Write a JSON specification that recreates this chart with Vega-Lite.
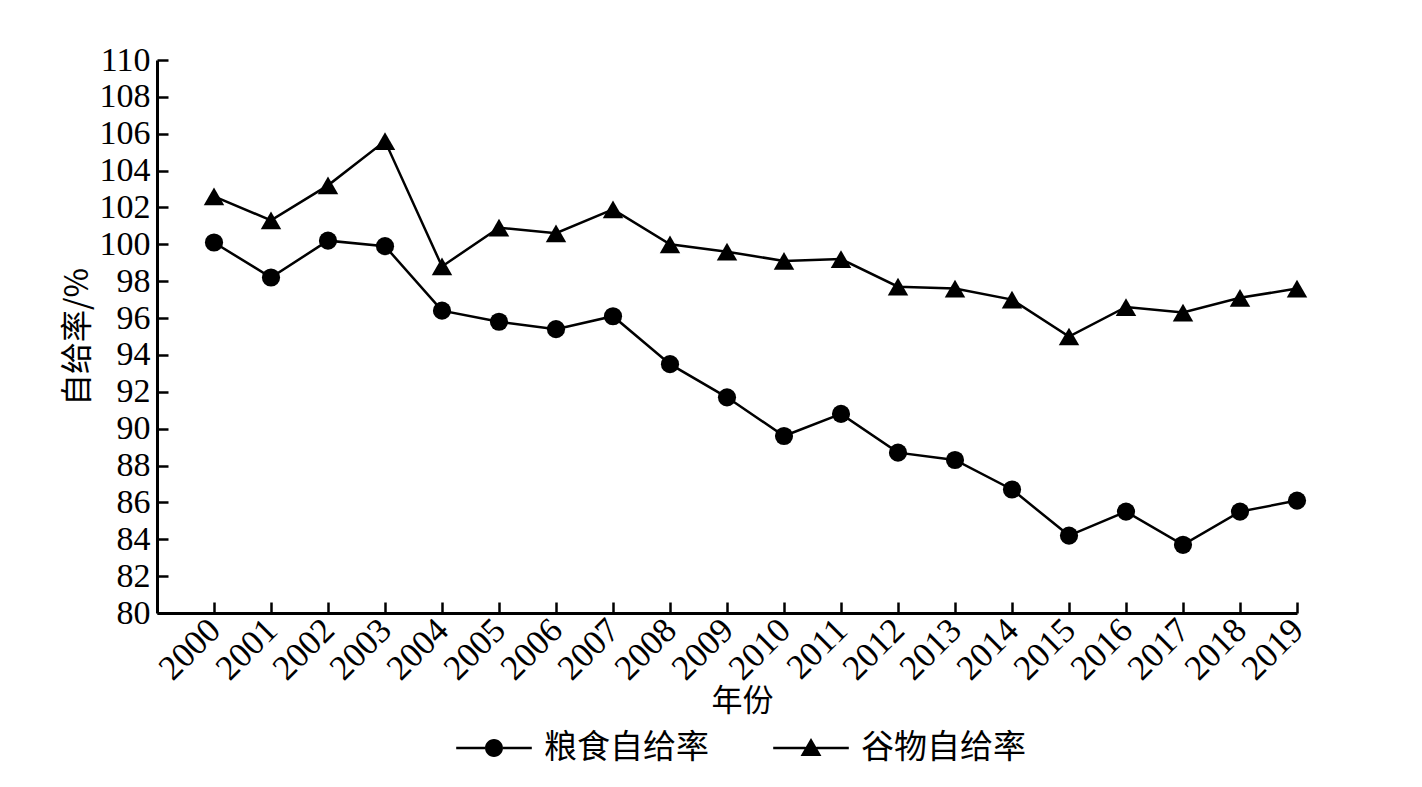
{
  "$schema": "https://vega.github.io/schema/vega-lite/v6.json",
  "width": 1140,
  "height": 553,
  "autosize": {"type": "none"},
  "padding": {"left": 157, "top": 60, "right": 125, "bottom": 174},
  "background": "white",
  "data": {"values": [
    {"year": 2000, "series": "粮食自给率", "value": 100.1},
    {"year": 2001, "series": "粮食自给率", "value": 98.2},
    {"year": 2002, "series": "粮食自给率", "value": 100.2},
    {"year": 2003, "series": "粮食自给率", "value": 99.9},
    {"year": 2004, "series": "粮食自给率", "value": 96.4},
    {"year": 2005, "series": "粮食自给率", "value": 95.8},
    {"year": 2006, "series": "粮食自给率", "value": 95.4},
    {"year": 2007, "series": "粮食自给率", "value": 96.1},
    {"year": 2008, "series": "粮食自给率", "value": 93.5},
    {"year": 2009, "series": "粮食自给率", "value": 91.7},
    {"year": 2010, "series": "粮食自给率", "value": 89.6},
    {"year": 2011, "series": "粮食自给率", "value": 90.8},
    {"year": 2012, "series": "粮食自给率", "value": 88.7},
    {"year": 2013, "series": "粮食自给率", "value": 88.3},
    {"year": 2014, "series": "粮食自给率", "value": 86.7},
    {"year": 2015, "series": "粮食自给率", "value": 84.2},
    {"year": 2016, "series": "粮食自给率", "value": 85.5},
    {"year": 2017, "series": "粮食自给率", "value": 83.7},
    {"year": 2018, "series": "粮食自给率", "value": 85.5},
    {"year": 2019, "series": "粮食自给率", "value": 86.1},
    {"year": 2000, "series": "谷物自给率", "value": 102.6},
    {"year": 2001, "series": "谷物自给率", "value": 101.3},
    {"year": 2002, "series": "谷物自给率", "value": 103.2},
    {"year": 2003, "series": "谷物自给率", "value": 105.6},
    {"year": 2004, "series": "谷物自给率", "value": 98.8},
    {"year": 2005, "series": "谷物自给率", "value": 100.9},
    {"year": 2006, "series": "谷物自给率", "value": 100.6},
    {"year": 2007, "series": "谷物自给率", "value": 101.9},
    {"year": 2008, "series": "谷物自给率", "value": 100.0},
    {"year": 2009, "series": "谷物自给率", "value": 99.6},
    {"year": 2010, "series": "谷物自给率", "value": 99.1},
    {"year": 2011, "series": "谷物自给率", "value": 99.2},
    {"year": 2012, "series": "谷物自给率", "value": 97.7},
    {"year": 2013, "series": "谷物自给率", "value": 97.6},
    {"year": 2014, "series": "谷物自给率", "value": 97.0},
    {"year": 2015, "series": "谷物自给率", "value": 95.0},
    {"year": 2016, "series": "谷物自给率", "value": 96.6},
    {"year": 2017, "series": "谷物自给率", "value": 96.3},
    {"year": 2018, "series": "谷物自给率", "value": 97.1},
    {"year": 2019, "series": "谷物自给率", "value": 97.6}
  ]},
  "encoding": {
    "x": {
      "field": "year", "type": "quantitative",
      "scale": {"domain": [1999, 2019], "nice": false, "zero": false},
      "axis": {
        "values": [2000,2001,2002,2003,2004,2005,2006,2007,2008,2009,2010,2011,2012,2013,2014,2015,2016,2017,2018,2019],
        "format": "d", "labelAngle": -45, "labelAlign": "right", "labelBaseline": "middle",
        "labelFont": "Liberation Serif", "labelFontSize": 35, "labelColor": "black",
        "labelPadding": 22, "labelOverlap": false, "labelFlush": false,
        "tickSize": -11, "tickWidth": 2.5, "tickColor": "black",
        "domainWidth": 3, "domainColor": "black", "grid": false,
        "title": "年份", "titleFont": "Noto Sans CJK SC", "titleFontSize": 31, "titleFontWeight": "normal",
        "titleColor": "black", "titlePadding": 0, "titleX": 585
      }
    },
    "y": {
      "field": "value", "type": "quantitative",
      "scale": {"domain": [80, 110], "nice": false, "zero": false},
      "axis": {
        "values": [80,82,84,86,88,90,92,94,96,98,100,102,104,106,108,110],
        "labelFont": "Liberation Serif", "labelFontSize": 34, "labelColor": "black",
        "labelPadding": 18, "labelOverlap": false, "labelFlush": false,
        "tickSize": -11, "tickWidth": 2.5, "tickColor": "black",
        "domainWidth": 3, "domainColor": "black", "grid": false,
        "title": "自给率/%", "titleFont": "Noto Sans CJK SC", "titleFontSize": 32, "titleFontWeight": "normal",
        "titleColor": "black", "titlePadding": 5
      }
    }
  },
  "layer": [
    {
      "mark": {"type": "line", "color": "black", "strokeWidth": 2.5},
      "encoding": {"detail": {"field": "series", "type": "nominal"}}
    },
    {
      "transform": [{"filter": "datum.series === '粮食自给率'"}],
      "mark": {"type": "point", "shape": "circle", "filled": true, "color": "black", "opacity": 1, "size": 330}
    },
    {
      "transform": [{"filter": "datum.series === '谷物自给率'"}],
      "mark": {"type": "point", "shape": "triangle-up", "filled": true, "color": "black", "opacity": 1, "size": 420}
    },
    {
      "mark": {"type": "point", "filled": true, "color": "black", "opacity": 0, "size": 1296},
      "encoding": {
        "shape": {"field": "series", "type": "nominal",
          "scale": {"domain": ["粮食自给率", "谷物自给率"],
            "range": ["M-2.1,-0.07L-0.5,-0.07L-0.5,0.07L-2.1,0.07ZM0.5,-0.07L2.1,-0.07L2.1,0.07L0.5,0.07ZM-0.5,0A0.5,0.5 0 1,1 0.5,0A0.5,0.5 0 1,1 -0.5,0Z",
                      "M-2.1,-0.07L-0.3,-0.07L-0.3,0.07L-2.1,0.07ZM0.3,-0.07L2.1,-0.07L2.1,0.07L0.3,0.07ZM0,-0.55L0.58,0.45L-0.58,0.45Z"]},
          "legend": {
            "title": null, "orient": "none", "legendX": 319, "legendY": 670,
            "direction": "horizontal",
            "labelFont": "Noto Sans CJK SC", "labelFontSize": 33, "labelColor": "black", "labelLimit": 0,
            "symbolSize": 1296, "symbolOpacity": 1, "symbolFillColor": "black",
            "symbolStrokeColor": "black", "symbolStrokeWidth": 0,
            "labelOffset": 32, "columnPadding": 64,
            "encode": {"symbols": {"update": {
              "fill": {"value": "black"}, "opacity": {"value": 1}, "fillOpacity": {"value": 1}
            }}}
          }
        }
      }
    }
  ],
  "config": {"view": {"stroke": null}}
}
